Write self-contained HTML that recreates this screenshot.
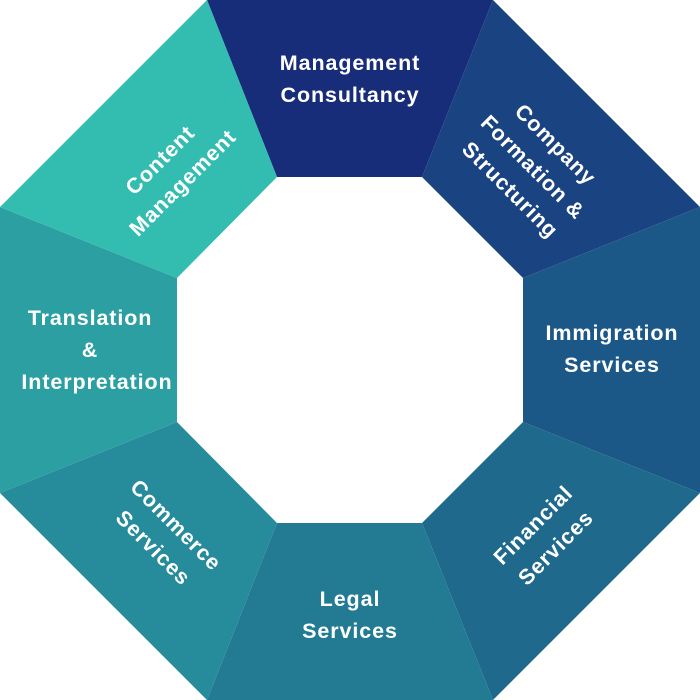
<!DOCTYPE html>
<html><head><meta charset="utf-8"><style>
html,body{margin:0;padding:0;background:#fff;width:700px;height:700px;overflow:hidden}
text{font-family:"Liberation Sans",sans-serif;font-weight:bold;font-size:21.5px;fill:#fff;text-anchor:middle;letter-spacing:0.9px}
</style></head><body>
<svg width="700" height="700" viewBox="0 0 700 700">
<polygon points="207,0 493,0 422,177 277,177" fill="#172d7a"/>
<polygon points="493,0 700,207 523,278 422,177" fill="#1a4382"/>
<polygon points="700,207 700,493 523,422 523,278" fill="#1c5887"/>
<polygon points="700,493 493,700 422,523 523,422" fill="#1f6a8c"/>
<polygon points="493,700 207,700 277,523 422,523" fill="#227b93"/>
<polygon points="207,700 0,493 177,422 277,523" fill="#268b9b"/>
<polygon points="0,493 0,207 177,278 177,422" fill="#2c9fa3"/>
<polygon points="0,207 207,0 277,177 177,278" fill="#33bdb0"/>

<text x="350" y="70">Management</text>
<text x="350" y="102">Consultancy</text>

<g transform="translate(532,168) rotate(45)">
<text x="0" y="-26">Company</text>
<text x="0" y="6">Formation &amp;</text>
<text x="0" y="38">Structuring</text>
</g>

<text x="612" y="340">Immigration</text>
<text x="612" y="372">Services</text>

<g transform="translate(541,533) rotate(-45)">
<text x="0" y="-4">Financial</text>
<text x="0" y="28">Services</text>
</g>

<text x="350" y="606">Legal</text>
<text x="350" y="638">Services</text>

<g transform="translate(168,533) rotate(45)">
<text x="0" y="-4">Commerce</text>
<text x="0" y="28">Services</text>
</g>

<text x="90" y="325">Translation</text>
<text x="90" y="357">&amp;</text>
<text x="97" y="389">Interpretation</text>

<g transform="translate(168,168) rotate(-45)">
<text x="0" y="-4">Content</text>
<text x="0" y="28">Management</text>
</g>
</svg>
</body></html>
